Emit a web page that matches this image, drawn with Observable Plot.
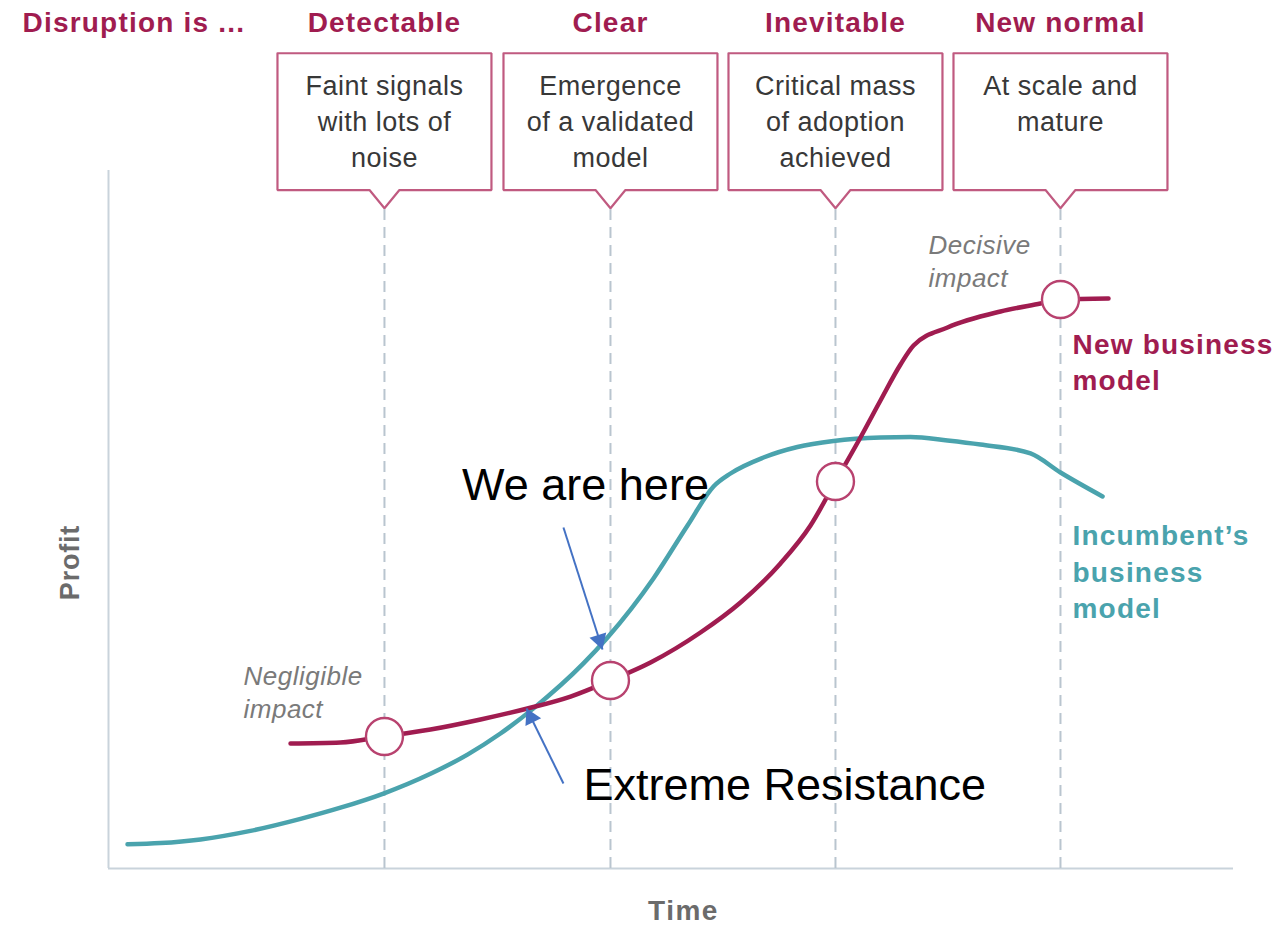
<!DOCTYPE html>
<html>
<head>
<meta charset="utf-8">
<script src="https://cdn.jsdelivr.net/npm/d3@7"></script>
<script src="https://cdn.jsdelivr.net/npm/@observablehq/plot@0.6"></script>
<style>
  html, body { margin: 0; padding: 0; background: #fff; }
</style>
</head>
<body>
<div id="chart"></div>
<script>
// ---- data ----
const leadTitle = "Disruption is ...";
const stages = ["Detectable", "Clear", "Inevitable", "New normal"];
const stageX = [24.53, 44.62, 64.62, 84.62];
const boxLines = [
  ["Faint signals", "with lots of", "noise"],
  ["Emergence", "of a validated", "model"],
  ["Critical mass", "of adoption", "achieved"],
  ["At scale and", "mature"]
];
const incumbentX = [1.69, 4.62, 8.18, 12.62, 17.07, 20.62, 24.44, 28.62, 31.91, 34.84, 37.78, 42.22, 44.36, 48.44, 51.47, 53.78, 55.29, 58.22, 61.24, 64.44, 68.62, 71.29, 74.58, 77.51, 81.96, 84.62, 88.36];
const incumbentY = [3.47, 3.65, 4.17, 5.39, 7.11, 8.71, 10.74, 13.57, 16.32, 19.34, 22.94, 29.38, 33.09, 41.55, 49.14, 54.73, 56.59, 58.88, 60.39, 61.25, 61.75, 61.82, 61.32, 60.74, 59.46, 56.73, 53.30];
const newModelX = [16.18, 20.62, 24.44, 28.62, 33.07, 37.24, 41.07, 44.62, 48.18, 52.62, 56.18, 59.73, 62.40, 64.62, 66.84, 68.62, 70.40, 71.56, 74.58, 79.29, 82.84, 84.62, 88.89];
const newModelY = [17.91, 18.05, 18.91, 19.91, 21.35, 22.92, 24.64, 26.93, 29.51, 33.81, 38.11, 43.70, 49.14, 55.44, 61.75, 67.05, 72.21, 74.93, 77.51, 79.80, 80.95, 81.52, 81.66];
const milestoneY = [18.91, 26.93, 55.44, 81.52];

const notes = [
  {lines: ["Decisive", "impact"], x: 72.89, y: 89.26},
  {lines: ["Negligible", "impact"], x: 12.0, y: 27.51}
];
const seriesLabels = [
  {lines: ["New business", "model"], x: 85.69, y: 74.93, color: "#a01c50"},
  {lines: ["Incumbent’s", "business", "model"], x: 85.69, y: 47.56, color: "#4aa3ad"}
];
const callouts = [
  {text: "We are here", x: 42.4, y: 54.87, x1: 40.44, y1: 48.85, x2: 43.91, y2: 31.38},
  {text: "Extreme Resistance", x: 42.22, y: 11.89, x1: 40.44, y1: 12.18, x2: 37.16, y2: 22.92}
];
const axisTitles = {x: "Time", y: "Profit"};

// ---- layout constants ----
const BOX_HALF = 9.51, BOX_TOP = 116.8, BOX_BOTTOM = 97.2, TIP = 94.6, NOTCH = 1.33;
const TITLE_Y = 121.1, TEXT_Y0 = 112.1, TEXT_STEP = 5.2;
const NOTE_STEP = 4.73, LABEL_STEP = 5.16;
const CRIMSON = "#a01c50", TEAL = "#4aa3ad", BOXSTROKE = "#c05a80", DASH = "#b9c5cf", AXIS = "#c9d3db", ARROW = "#4472c4";
const FONT = "'Liberation Sans', Arial, Helvetica, sans-serif";

// ---- derived tables ----
const incumbent = incumbentX.map((x, i) => ({x, y: incumbentY[i]}));
const newModel = newModelX.map((x, i) => ({x, y: newModelY[i]}));
const milestones = stageX.map((x, i) => ({x, y: milestoneY[i]}));
const stageTitles = stages.map((s, i) => ({text: s, x: stageX[i]}));
const boxPath = stageX.flatMap((cx, b) => [
  [cx - BOX_HALF, BOX_TOP], [cx + BOX_HALF, BOX_TOP], [cx + BOX_HALF, BOX_BOTTOM],
  [cx + NOTCH, BOX_BOTTOM], [cx, TIP], [cx - NOTCH, BOX_BOTTOM],
  [cx - BOX_HALF, BOX_BOTTOM], [cx - BOX_HALF, BOX_TOP]
].map(([x, y]) => ({x, y, b})));
const boxText = boxLines.flatMap((lines, b) => lines.map((t, i) => ({text: t, x: stageX[b], y: TEXT_Y0 - i * TEXT_STEP})));
const noteText = notes.flatMap(n => n.lines.map((t, i) => ({text: t, x: n.x, y: n.y - i * NOTE_STEP})));
const labelText = seriesLabels.flatMap(n => n.lines.map((t, i) => ({text: t, x: n.x, y: n.y - i * LABEL_STEP, color: n.color})));
const dashes = stageX.map(x => ({x, y1: 0, y2: TIP}));

const chart = Plot.plot({
  width: 1279,
  height: 925,
  marginLeft: 108,
  marginRight: 46,
  marginTop: 170,
  marginBottom: 57,
  x: {domain: [0, 100], axis: null},
  y: {domain: [0, 100], axis: null},
  style: {fontFamily: FONT, background: "#fff", overflow: "visible"},
  marks: [
    // axes frame
    Plot.ruleX([0], {y1: 0, y2: 100, stroke: AXIS, strokeWidth: 2}),
    Plot.ruleY([0], {x1: 0, x2: 100, stroke: AXIS, strokeWidth: 2}),
    // stage dashed lines
    Plot.ruleX(dashes, {x: "x", y1: "y1", y2: "y2", stroke: DASH, strokeWidth: 2, strokeDasharray: "11,7"}),
    // boxes
    Plot.line(boxPath, {x: "x", y: "y", z: "b", stroke: BOXSTROKE, strokeWidth: 2.2, strokeLinejoin: "miter", curve: "linear"}),
    Plot.text(boxText, {x: "x", y: "y", text: "text", fontSize: 27, fill: "#383838", textAnchor: "middle", lineAnchor: "middle"}),
    // titles
    Plot.text([leadTitle], {x: -7.64, y: TITLE_Y, text: d => d, textAnchor: "start", fontSize: 28, fontWeight: "bold", fill: CRIMSON, lineAnchor: "middle"}),
    Plot.text(stageTitles, {x: "x", y: TITLE_Y, text: "text", textAnchor: "middle", fontSize: 28, fontWeight: "bold", fill: CRIMSON, lineAnchor: "middle"}),
    // curves
    Plot.line(incumbent, {x: "x", y: "y", stroke: TEAL, strokeWidth: 4.5, curve: "monotone-x"}),
    Plot.line(newModel, {x: "x", y: "y", stroke: CRIMSON, strokeWidth: 4.5, curve: "monotone-x"}),
    Plot.dot(milestones, {x: "x", y: "y", r: 18.5, fill: "white", stroke: "#b8426f", strokeWidth: 2.4}),
    // notes
    Plot.text(noteText, {x: "x", y: "y", text: "text", textAnchor: "start", lineAnchor: "middle", fontSize: 26, fontStyle: "italic", fill: "#7a7a7a"}),
    // series labels
    Plot.text(labelText, {x: "x", y: "y", text: "text", textAnchor: "start", lineAnchor: "middle", fontSize: 28, fontWeight: "bold", fill: d => d.color}),
    // callouts
    Plot.text([callouts[0]], {x: "x", y: "y", text: "text", textAnchor: "middle", fontSize: 45, fill: "#000", lineAnchor: "middle"}),
    Plot.text([callouts[1]], {x: "x", y: "y", text: "text", textAnchor: "start", fontSize: 45, fill: "#000", lineAnchor: "middle"}),
    Plot.link(callouts, {x1: "x1", y1: "y1", x2: "x2", y2: "y2", stroke: ARROW, strokeWidth: 2}),
    Plot.dot([callouts[0]], {x: "x2", y: "y2", symbol: "triangle", r: 6.5, fill: ARROW, stroke: "none", rotate: 162.3, dx: -3.1, dy: -9.6}),
    Plot.dot([callouts[1]], {x: "x2", y: "y2", symbol: "triangle", r: 6.5, fill: ARROW, stroke: "none", rotate: -26.3, dx: 4.5, dy: 9.1}),
    // axis titles
    Plot.text([axisTitles.y], {x: -3.38, y: 43.84, text: d => d, rotate: -90, fontSize: 27, fontWeight: "bold", fill: "#6b6b6b", textAnchor: "middle", lineAnchor: "middle"}),
    Plot.text([axisTitles.x], {x: 51.11, y: -6.16, text: d => d, fontSize: 28, fontWeight: "bold", fill: "#6b6b6b", textAnchor: "middle", lineAnchor: "middle"})
  ]
});

// letter spacing per text mark (in mark order)
const spacing = [0.5, 1.2, 1.2, 0.5, 1.2, 0, 0, 0.8, 1.5];
chart.querySelectorAll("g[aria-label='text']").forEach((g, i) => {
  if (spacing[i]) g.setAttribute("letter-spacing", spacing[i]);
});
document.getElementById("chart").appendChild(chart);
</script>
</body>
</html>
